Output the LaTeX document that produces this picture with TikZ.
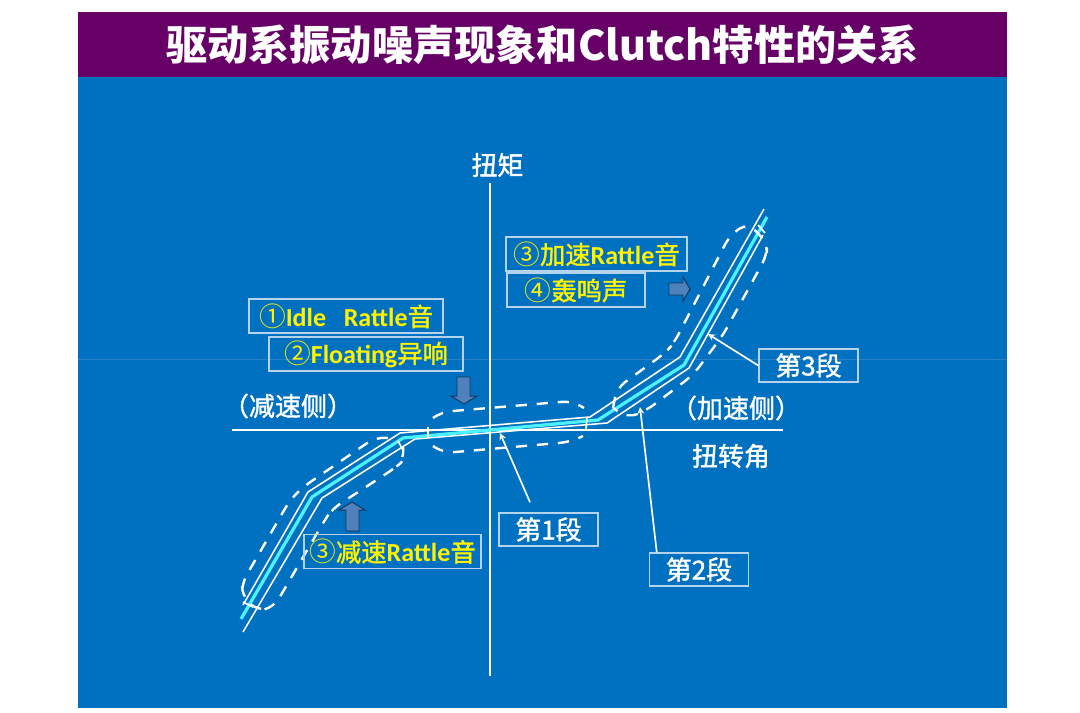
\documentclass[tikz,border=0pt]{standalone}
\usepackage{fontspec}
\usepackage{color}
\setmainfont{Noto Sans CJK SC}
\newfontfamily\cjkmed[FakeBold=1.5]{Noto Sans CJK SC}
\newfontfamily\lat{Carlito}
\usetikzlibrary{arrows}
\usetikzlibrary{positioning}
\definecolor{slideblue}{HTML}{0070C0}
\definecolor{titlepurple}{HTML}{660066}
\definecolor{boxline}{HTML}{B4D4EE}
\definecolor{curvecyan}{HTML}{4DF2FF}
\definecolor{arrowfill}{HTML}{4F81BD}
\definecolor{arrowline}{HTML}{17375E}
\definecolor{faintline}{HTML}{2A80C6}
\tikzset{
  axisline/.style={draw=white,line width=1.6pt},
  curveline/.style={draw=white,line width=1.1pt},
  cyanline/.style={draw=curvecyan,line width=2.3pt},
  dashline/.style={draw=white,line width=1.7pt,dash pattern=on 8pt off 7pt,rounded corners=7pt},
  tickline/.style={draw=white,line width=1.2pt},
  leader/.style={draw=white,line width=1.2pt,->,>=stealth},
  blockarrow/.style={draw=arrowline,fill=arrowfill,line width=0.7pt},
  axislabel/.style={text=white,font=\fontsize{18.5}{20}\selectfont\cjkmed,inner sep=0pt},
  segbox/.style={rectangle,draw=boxline,line width=0.9pt,text=white,font=\fontsize{18.5}{20}\selectfont\cjkmed,minimum width=2.48cm,minimum height=0.83cm,inner sep=0pt,align=center},
  noisebox/.style={rectangle,draw=boxline,line width=0.9pt,text=yellow,font=\fontsize{18}{20}\selectfont\cjkmed,minimum height=0.85cm,inner sep=0pt,align=center},
}
\newcommand{\rtext}[1]{{\lat\bfseries\fontsize{18.5}{20}\selectfont #1}}
\newcommand{\cnum}[1]{{\normalfont\fontsize{19}{20}\selectfont #1}}
\begin{document}
\begin{tikzpicture}[x=0.025cm,y=-0.025cm]
\useasboundingbox (0,0) rectangle (1080,712);
\fill[slideblue] (78,77) rectangle (1007,708);
\fill[titlepurple] (78,12) rectangle (1007,77);
\draw[faintline,line width=0.4pt] (78,359) -- (1007,359);
\node at (542.5,45)[text=white,inner sep=0pt,font=\fontsize{29.3}{30}\selectfont\bfseries](title){驱动系振动噪声现象和Clutch特性的关系};
\coordinate (vtop) at (490,183);
\coordinate (vbot) at (490,676);
\coordinate (hleft) at (232,430);
\coordinate (hright) at (783,430);
\draw[axisline] (vtop) -- (vbot);
\draw[axisline] (hleft) -- (hright);
\node at (497.5,165)[axislabel](torque){扭矩};
\node at (731,456)[axislabel](angle){扭转角};
\node at (288,406)[axislabel](decel){（减速侧）};
\node at (736,408)[axislabel](accel){（加速侧）};
\draw[curveline] (764,209) -- (680,357) -- (590,417) -- (400,433) -- (308,492) -- (243,605);
\draw[curveline] (763,235) -- (689,368) -- (607,423) -- (415,439) -- (322,498) -- (243,632);
\draw[cyanline] (767,217) -- (684,365) -- (598,420) -- (403,438) -- (312,497) -- (241,619);
\draw[tickline] (428,427) -- (428,438);
\draw[tickline] (587,417) -- (586,430);
\draw[tickline] (398,441) -- (403,450);
\draw[tickline] (243,602) -- (253,607);
\draw[tickline] (758,225) -- (765,233);
\draw[dashline] (433,418) -- (441,412) -- (572,401) -- (584,408);
\draw[dashline] (433,446) -- (444,453) -- (570,442) -- (583,436);
\draw[dashline] (613,408) -- (617,388) -- (665,353) -- (674,343) -- (730,235) -- (748,223) -- (767,243) -- (767,255) -- (723,335) -- (693,375) -- (647,410) -- (628,418) -- (613,408);
\draw[dashline] (388,438) -- (376,437) -- (303,487) -- (290,500) -- (242,583) -- (242,596) -- (258,611) -- (274,607) -- (323,523) -- (332,509) -- (395,468) -- (404,460) -- (403,447);
\node at (346,316)[noisebox,minimum width=4.85cm](idle){\cnum{①}\rtext{Idle\ \ \ Rattle}音};
\node at (366,354)[noisebox,minimum width=4.85cm](floating){\cnum{②}\rtext{Floating}异响};
\node at (596.5,254)[noisebox,minimum width=4.52cm](accrattle){\cnum{③}加速\rtext{Rattle}音};
\node at (576,290)[noisebox,minimum width=3.45cm](boom){\cnum{④}轰鸣声};
\node at (392.5,551.5)[noisebox,minimum width=4.42cm](decrattle){\cnum{③}减速\rtext{Rattle}音};
\node at (548.5,529.5)[segbox](seg1){第1段};
\node at (699,569.5)[segbox](seg2){第2段};
\node at (808.5,365.5)[segbox](seg3){第3段};
\coordinate (tip1) at (500,433);
\coordinate (tip2) at (640,407);
\coordinate (tip3) at (708,334);
\draw[leader] ([shift={(-18.5,-10)}]seg1.north) -- (tip1);
\draw[leader] ([shift={(8,0)}]seg2.north west) -- (tip2);
\draw[leader] (seg3.west) -- (tip3);
\draw[blockarrow] (457,377) -- (470,377) -- (470,396) -- (477,396) -- (464,404) -- (451,396) -- (457,396) -- cycle;
\draw[blockarrow] (669,283) -- (683,283) -- (683,277) -- (690,289) -- (683,301) -- (683,295) -- (669,295) -- cycle;
\draw[blockarrow] (346,531) -- (359,531) -- (359,510) -- (365,510) -- (352,502) -- (339,510) -- (346,510) -- cycle;
\end{tikzpicture}
\end{document}
